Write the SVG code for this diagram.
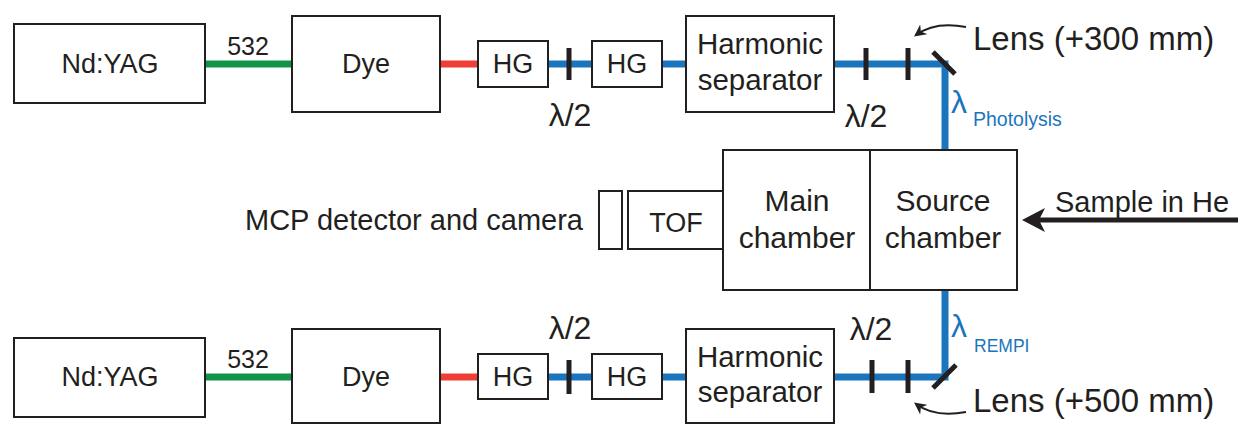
<svg xmlns="http://www.w3.org/2000/svg" width="1238" height="424" viewBox="0 0 1238 424">
<defs>
<style>
.box{fill:#fff;stroke:#231f20;stroke-width:2}
.t{font-family:"Liberation Sans",Arial,sans-serif;font-size:27px;fill:#231f20}
.c{text-anchor:middle}
.big{font-size:32px}
.lens{font-size:33px}
.hs{font-size:29.5px}
.ch{font-size:30px}
.blue{fill:#1b75bc}
.beamB{fill:none;stroke:#1b75bc;stroke-width:7}
.beamG{fill:none;stroke:#119447;stroke-width:7}
.beamR{fill:none;stroke:#ee3e36;stroke-width:7}
.wp{fill:#231f20}
.mir{stroke:#231f20;stroke-width:5}
.curve{fill:none;stroke:#231f20;stroke-width:2}
</style>
<marker id="ah" viewBox="0 0 10 10" refX="8" refY="5" markerWidth="6" markerHeight="6" orient="auto" markerUnits="strokeWidth">
<path d="M0,0 L10,5 L0,10 L3,5 Z" fill="#231f20"/>
</marker>
</defs>

<g id="connectors">
<path class="beamG" d="M205 64 H292"/>
<path class="beamR" d="M440 64 H478"/>
<path class="beamB" d="M548 64 H592"/>
<path class="beamB" d="M662 64 H686"/>
<path class="beamB" d="M834 64 H945 V149"/>
<path class="beamG" d="M205 377 H292"/>
<path class="beamR" d="M440 377 H478"/>
<path class="beamB" d="M548 377 H592"/>
<path class="beamB" d="M662 377 H686"/>
<path class="beamB" d="M834 377 H945 V291"/>
<line x1="1238" y1="220" x2="1038" y2="220" stroke="#231f20" stroke-width="5"/>
<polygon points="1022,220 1045,208 1039,220 1045,232" fill="#231f20"/>
<path class="curve" d="M966 27 Q935 21 916 35" marker-end="url(#ah)"/>
<path class="curve" d="M966 412 Q935 418 916 404" marker-end="url(#ah)"/>
</g>

<g id="yag1"><rect class="box" x="14" y="24" width="191" height="79"/><text class="t c" x="110" y="73">Nd:YAG</text></g>
<g id="lbl532a"><text class="t c" x="248" y="55" style="font-size:25px">532</text></g>
<g id="dye1"><rect class="box" x="292" y="16" width="148" height="96"/><text class="t c" x="366" y="73">Dye</text></g>
<g id="hg1a"><rect class="box" x="478" y="41" width="70" height="46"/><text class="t c" x="513" y="73">HG</text></g>
<g id="wp1a"><rect class="wp" x="566.5" y="48" width="5" height="32"/><text class="t c big" x="570" y="126">λ/2</text></g>
<g id="hg1b"><rect class="box" x="592" y="41" width="70" height="46"/><text class="t c" x="627" y="73">HG</text></g>
<g id="hs1"><rect class="box" x="686" y="16" width="148" height="96"/><text class="t c hs" x="760" y="54">Harmonic</text><text class="t c hs" x="760" y="90">separator</text></g>
<g id="wp1b"><rect class="wp" x="863.5" y="48" width="5" height="32"/><text class="t c big" x="866" y="127">λ/2</text></g>
<g id="lens1"><rect class="wp" x="905.5" y="48" width="5" height="32"/><text class="t lens" x="973" y="50">Lens (+300 mm)</text></g>
<g id="mirror1"><line class="mir" x1="933" y1="52" x2="955" y2="74"/></g>
<g id="lamPhot"><text class="t big blue" x="951" y="113">λ</text><text class="t blue" x="973" y="126" style="font-size:19.5px">Photolysis</text></g>

<g id="mcp"><rect class="box" x="599" y="191" width="23" height="58"/><text class="t" x="245" y="230" style="font-size:29px">MCP detector and camera</text></g>
<g id="tof"><rect class="box" x="628" y="191" width="95" height="58"/><text class="t c" x="676" y="232">TOF</text></g>
<g id="main"><rect class="box" x="723" y="150" width="147" height="140"/><text class="t c ch" x="797" y="211">Main</text><text class="t c ch" x="797" y="248">chamber</text></g>
<g id="source"><rect class="box" x="870" y="150" width="147" height="140"/><text class="t c ch" x="943" y="211">Source</text><text class="t c ch" x="943" y="248">chamber</text></g>
<g id="sample"><text class="t" x="1055" y="212" style="font-size:29px">Sample in He</text></g>

<g id="yag2"><rect class="box" x="14" y="338" width="191" height="79"/><text class="t c" x="110" y="386">Nd:YAG</text></g>
<g id="lbl532b"><text class="t c" x="248" y="368" style="font-size:25px">532</text></g>
<g id="dye2"><rect class="box" x="292" y="329" width="148" height="94"/><text class="t c" x="366" y="386">Dye</text></g>
<g id="hg2a"><rect class="box" x="478" y="354" width="70" height="45"/><text class="t c" x="513" y="386">HG</text></g>
<g id="wp2a"><rect class="wp" x="566.5" y="360" width="5" height="34"/><text class="t c big" x="570" y="339">λ/2</text></g>
<g id="hg2b"><rect class="box" x="592" y="354" width="70" height="45"/><text class="t c" x="627" y="386">HG</text></g>
<g id="hs2"><rect class="box" x="686" y="329" width="148" height="94"/><text class="t c hs" x="760" y="367">Harmonic</text><text class="t c hs" x="760" y="402">separator</text></g>
<g id="wp2b"><rect class="wp" x="869.5" y="360" width="5" height="33"/><text class="t c big" x="871" y="340">λ/2</text></g>
<g id="lens2"><rect class="wp" x="905.5" y="360" width="5" height="33"/><text class="t lens" x="973" y="412">Lens (+500 mm)</text></g>
<g id="mirror2"><line class="mir" x1="933" y1="388" x2="956" y2="365"/></g>
<g id="lamRempi"><text class="t big blue" x="951" y="337">λ</text><text class="t blue" x="974" y="352" style="font-size:17.5px">REMPI</text></g>
</svg>
